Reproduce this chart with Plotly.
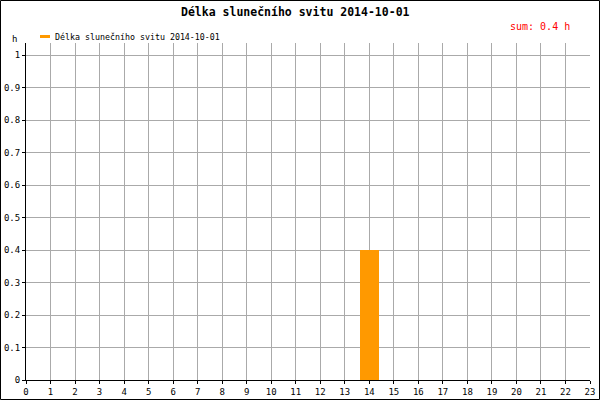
import plotly.graph_objects as go

hours = list(range(24))
sunshine = [0, 0, 0, 0, 0, 0, 0, 0, 0, 0, 0, 0, 0, 0, 0.4, 0, 0, 0, 0, 0, 0, 0, 0, 0]
x_ticks = list(range(24))
y_ticks = [0, 0.1, 0.2, 0.3, 0.4, 0.5, 0.6, 0.7, 0.8, 0.9, 1]
title = "Délka slunečního svitu 2014-10-01"
legend_name = "Délka slunečního svitu 2014-10-01"
sum_text = "sum: 0.4 h"

W, H = 600, 400
L, R, T, B = 26, 10, 43, 20
pw, ph = W - L - R, H - T - B

def px(xp):
    return (xp - L) / pw

def py(yp):
    return (H - B - yp) / ph

font = "DejaVu Sans Mono"

fig = go.Figure()
fig.add_trace(go.Bar(x=hours, y=sunshine, width=0.8, marker=dict(color="#FF9900", line=dict(width=0)),
                     name=legend_name, showlegend=False))

fig.update_layout(
    width=W, height=H,
    margin=dict(l=L, r=R, t=T, b=B, autoexpand=False),
    paper_bgcolor="white", plot_bgcolor="white",
    font=dict(family=font, size=9, color="black"),
    showlegend=False,
    bargap=0,
)
fig.update_xaxes(range=[0, 23], tickvals=x_ticks, ticktext=[str(v) for v in x_ticks],
                 showgrid=True, gridcolor="#aaaaaa", gridwidth=1,
                 showline=True, linecolor="black", linewidth=1,
                 ticks="outside", ticklen=3, tickcolor="black", automargin=False,
                 tickfont=dict(family=font, size=9), zeroline=False)
fig.update_yaxes(range=[0, (H - B - T) / 325.0], tickvals=y_ticks, ticktext=[str(v) for v in y_ticks],
                 showgrid=True, gridcolor="#aaaaaa", gridwidth=1,
                 showline=True, linecolor="black", linewidth=1,
                 ticks="outside", ticklen=3, tickcolor="black", automargin=False,
                 tickfont=dict(family=font, size=9), zeroline=False)

# outer frame
fig.add_shape(type="rect", xref="paper", yref="paper",
              x0=px(0.5), x1=px(W - 0.5), y0=py(H - 0.5), y1=py(0.5),
              line=dict(color="black", width=1), fillcolor="rgba(0,0,0,0)", layer="above")

# title
fig.add_annotation(xref="paper", yref="paper", x=px(295), y=py(12), text="<b>" + title + "</b>",
                   showarrow=False, font=dict(family=font, size=11.5, color="black"),
                   xanchor="center", yanchor="middle")
# legend
fig.add_shape(type="line", xref="paper", yref="paper", x0=px(40), x1=px(50), y0=py(36.5), y1=py(36.5),
              line=dict(color="#FF9900", width=3))
fig.add_annotation(xref="paper", yref="paper", x=px(53), y=py(37), text=legend_name,
                   showarrow=False, font=dict(family=font, size=8.3, color="black"),
                   xanchor="left", yanchor="middle")
# sum
fig.add_annotation(xref="paper", yref="paper", x=px(572), y=py(27), text=sum_text,
                   showarrow=False, font=dict(family=font, size=10, color="red"),
                   xanchor="right", yanchor="middle")
# unit label
fig.add_annotation(xref="paper", yref="paper", x=px(14), y=py(39), text="h",
                   showarrow=False, font=dict(family=font, size=9, color="black"),
                   xanchor="center", yanchor="middle")

fig.write_html("out.html", config={"displayModeBar": False},
               post_script="document.body.style.margin='0';document.body.style.overflow='hidden';")
